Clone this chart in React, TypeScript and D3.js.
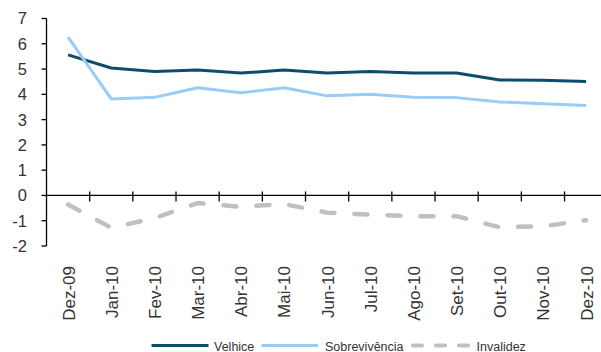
import React from "react";
import * as d3 from "d3";

const categories = ["Dez-09", "Jan-10", "Fev-10", "Mar-10", "Abr-10", "Mai-10", "Jun-10", "Jul-10", "Ago-10", "Set-10", "Out-10", "Nov-10", "Dez-10"];
const velhice = [5.56, 5.04, 4.9, 4.96, 4.84, 4.96, 4.84, 4.9, 4.84, 4.84, 4.57, 4.56, 4.51];
const sobrevivencia = [6.26, 3.82, 3.88, 4.26, 4.06, 4.26, 3.94, 4.0, 3.88, 3.87, 3.7, 3.63, 3.56];
const invalidez = [-0.36, -1.28, -0.9, -0.3, -0.45, -0.34, -0.68, -0.76, -0.82, -0.82, -1.26, -1.22, -0.98];
const yTicks = [7, 6, 5, 4, 3, 2, 1, 0, -1, -2];

const W = 601;
const H = 352;
const FONT = "'Liberation Sans', Arial, sans-serif";
const TEXT = "#333333";

export default function App() {
  const x = d3.scaleBand<string>().domain(categories).range([46.5, 46.5 + 13 * 43.17]);
  const y = d3.scaleLinear().domain([-2, 7]).range([246, 18.5]);
  const cx = (c: string) => (x(c) ?? 0) + x.bandwidth() / 2;
  const line = d3.line<number>().x((_, i) => cx(categories[i])).y((d) => y(d));

  const series = [
    { name: "Velhice", data: velhice, color: "#0d4d6b", width: 3, dash: undefined as string | undefined, cap: "butt" },
    { name: "Sobrevivência", data: sobrevivencia, color: "#99ccf7", width: 3, dash: undefined, cap: "butt" },
    { name: "Invalidez", data: invalidez, color: "#c0c0c0", width: 4.5, dash: "13 20", cap: "round" },
  ];

  const boundaries = categories.slice(1).map((c) => x(c) ?? 0);

  return (
    <svg width={W} height={H} style={{ position: "absolute", left: 0, top: 0, background: "#fff" }} fontFamily={FONT}>
      {/* y axis */}
      <line x1={46.5} x2={46.5} y1={y(7)} y2={y(-2)} stroke="#000" strokeWidth={1.3} />
      {yTicks.map((t) => (
        <g key={t}>
          <line x1={41.5} x2={46.5} y1={y(t)} y2={y(t)} stroke="#000" strokeWidth={1.3} />
          <text x={27} y={y(t)} dy="0.36em" textAnchor="end" fontSize={16.5} fill={TEXT}>
            {t}
          </text>
        </g>
      ))}
      {/* x axis */}
      <line x1={46.5} x2={W} y1={y(0)} y2={y(0)} stroke="#000" strokeWidth={1.3} />
      {boundaries.map((b, i) => (
        <line key={i} x1={b} x2={b} y1={y(0) - 4} y2={y(0) + 6} stroke="#000" strokeWidth={1.3} />
      ))}
      {categories.map((c) => (
        <text
          key={c}
          transform={`translate(${cx(c) + 6.5},266) rotate(-90)`}
          textAnchor="end"
          fontSize={17}
          fill={TEXT}
        >
          {c}
        </text>
      ))}
      {/* lines */}
      {series.map((s) => (
        <path
          key={s.name}
          d={line(s.data) ?? ""}
          fill="none"
          stroke={s.color}
          strokeWidth={s.width}
          strokeDasharray={s.dash}
          strokeLinecap={s.cap as any}
          strokeLinejoin="round"
        />
      ))}
      {/* legend */}
      <g fontSize={12.5} fill={TEXT}>
        <line x1={151.5} x2={208.5} y1={345.5} y2={345.5} stroke="#0d4d6b" strokeWidth={3} />
        <text x={214} y={346} dy="0.36em">Velhice</text>
        <line x1={261.5} x2={318} y1={345.5} y2={345.5} stroke="#99ccf7" strokeWidth={3} />
        <text x={325} y={346} dy="0.36em">Sobrevivência</text>
        <line x1={413} x2={470} y1={345.5} y2={345.5} stroke="#c0c0c0" strokeWidth={4} strokeDasharray="9 14" strokeLinecap="round" />
        <text x={476.5} y={346} dy="0.36em">Invalidez</text>
      </g>
    </svg>
  );
}
